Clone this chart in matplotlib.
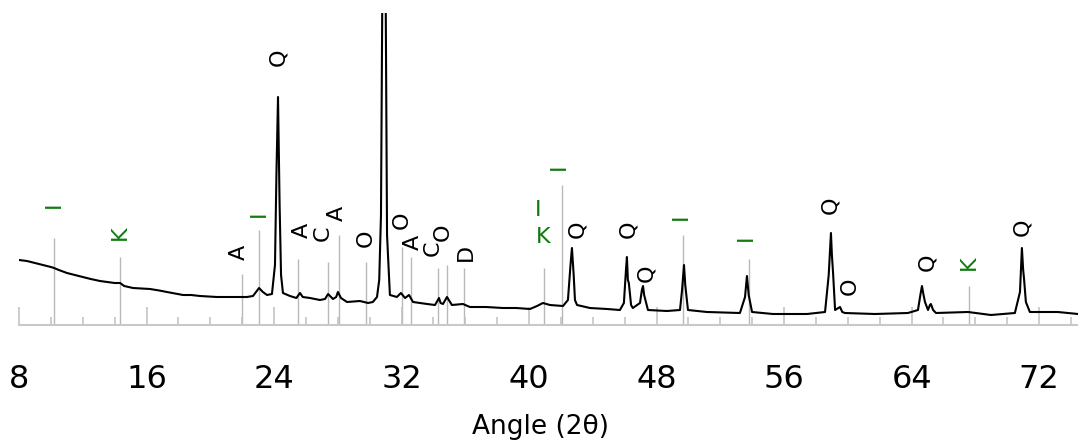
import matplotlib
matplotlib.use("Agg")
from matplotlib import pyplot as plt
from matplotlib.ticker import MultipleLocator

plt.rcParams['font.family'] = ['DejaVu Sans']

# Diffraction pattern (angle 2theta, intensity in counts)
two_theta = [
    8.00, 8.50, 9.00, 9.50, 10.00, 10.20, 10.50, 11.01, 12.02, 12.50, 13.08,
    14.00, 14.34, 14.60, 15.15, 15.70, 16.22, 16.80, 17.28, 17.80, 18.29, 18.80,
    19.36, 20.42, 21.43, 22.30, 22.68, 23.06, 23.30,
    23.56, 23.87, 24.06, 24.15, 24.25, 24.35, 24.44, 24.56, 25.00, 25.40, 25.63,
    25.80, 26.26, 26.88, 27.20, 27.39, 27.70, 27.90, 28.01, 28.20, 28.58, 29.39,
    29.90, 30.20, 30.46, 30.60, 30.71, 30.82, 30.90, 30.98, 31.09, 31.27, 31.71,
    31.96, 32.22, 32.47, 32.72, 33.60, 34.10, 34.35, 34.45, 34.60, 34.85, 35.16,
    35.85, 36.29, 37.30, 38.36, 39.20, 40.06, 40.50, 40.87, 41.31, 42.13, 42.44,
    42.60, 42.69, 42.80, 42.88, 43.01, 43.82, 44.89, 45.70, 45.95, 46.08, 46.14,
    46.20, 46.26, 46.40, 46.51, 46.96, 47.08, 47.15, 47.22, 47.30, 47.46, 48.65,
    49.47, 49.60, 49.72, 49.80, 49.97, 51.16, 53.23, 53.55, 53.67, 53.78, 53.99,
    55.30, 57.44, 58.57, 58.80, 58.94, 59.00, 59.07, 59.20, 59.30, 59.51, 59.65,
    59.82, 61.70, 63.77, 64.40, 64.55, 64.65, 64.75, 64.84, 65.03, 65.15, 65.21,
    65.35, 65.53, 67.54, 68.98, 70.48, 70.80, 70.92, 71.00, 71.05, 71.17, 71.42,
    72.50, 73.18, 74.44,
]
counts = [
    650, 640, 620, 600, 580, 570, 550, 520, 480, 460, 440,
    420, 420, 390, 370, 365, 360, 345, 330, 315, 300, 300,
    290, 280, 280, 280, 290, 370, 330,
    300, 310, 600, 1500, 2280, 1200, 500, 320, 290, 270, 320,
    280, 270, 250, 260, 310, 260, 280, 330, 270, 230, 240,
    220, 230, 280, 450, 1100, 4000, 33000, 4000, 900, 300, 280,
    320, 270, 300, 230, 210, 200, 270, 220, 210, 280, 200,
    210, 180, 180, 170, 170, 160, 190, 220, 200, 190, 250,
    600, 770, 500, 250, 200, 170, 160, 150, 220, 550, 680,
    450, 420, 200, 170, 220, 350, 390, 300, 250, 150, 140,
    150, 350, 600, 400, 150, 130, 120, 280, 490, 300, 130,
    110, 110, 130, 500, 920, 700, 530, 150, 160, 180, 130,
    120, 110, 120, 150, 300, 390, 300, 230, 150, 200, 210,
    150, 120, 130, 100, 120, 330, 770, 550, 470, 230, 130,
    130, 130, 110,
]

# Reference (stick) lines of the identified phases
ref_pos = [10.20, 14.34, 21.97, 23.06, 25.50, 27.39, 28.08, 29.77, 32.03,
           32.59, 34.29, 34.85, 35.92, 40.94, 42.07, 49.66, 53.80, 67.60]
ref_top = [870, 680, 510, 950, 660, 630, 900, 630, 780,
           680, 570, 600, 570, 570, 1400, 900, 660, 390]

# Phase letters
label_text = ["I", "K", "A", "I", "Q", "A", "C", "A", "O", "O", "A", "C", "O",
              "D", "I", "K", "I", "Q", "Q", "Q", "I", "I", "Q", "O", "Q", "K", "Q"]
label_x = [10.20, 14.34, 21.80, 23.06, 24.25, 25.75, 27.07, 27.95, 29.77, 32.03,
           32.72, 33.97, 34.60, 36.04, 40.58, 40.87, 41.88, 43.01, 46.21, 47.34,
           49.53, 53.61, 58.88, 60.13, 64.96, 67.60, 70.92]
label_y = [1200, 920, 730, 1110, 2680, 950, 920, 1120, 870, 1050,
           830, 770, 930, 730, 1150, 880, 1580, 960, 960, 520,
           1080, 870, 1200, 390, 630, 620, 980]
label_green = [True, True, False, True, False, False, False, False, False, False,
               False, False, False, False, True, True, True, False, False, False,
               True, True, False, False, False, True, False]
label_upright = [False] * 14 + [True, True] + [False] * 11

grey = "#b8b8b8"
green = "#137a13"

fig = plt.figure(figsize=(10.78, 4.45), dpi=100)
ax = fig.add_axes([19 / 1078, 120 / 445, 1 - 19 / 1078, 312 / 445])

ax.vlines(ref_pos, 0, ref_top, color=grey, lw=1.0, zorder=1)
ax.plot(two_theta, counts, color="black", lw=1.5, zorder=2)

for t, x, y, g, up in zip(label_text, label_x, label_y, label_green, label_upright):
    ax.text(x, y, t, ha="center", va="center", fontsize=16,
            rotation=0 if up else 90, color=green if g else "black")

ax.set_xlim(8, 74.44)
ax.set_ylim(0, 3120)

for s in ["top", "left", "right"]:
    ax.spines[s].set_visible(False)
ax.spines["bottom"].set_color("#c8c8c8")
ax.spines["bottom"].set_linewidth(1.5)
ax.set_yticks([])

ax.xaxis.set_major_locator(MultipleLocator(8))
ax.xaxis.set_minor_locator(MultipleLocator(2))
ax.tick_params(axis="x", which="major", direction="in", length=13, width=1.1,
               color="#c0c0c0", labelsize=23, pad=28)
ax.tick_params(axis="x", which="minor", direction="in", length=6, width=1.1,
               color="#c0c0c0")

fig.text(540 / 1078, 1 - 427 / 445, "Angle (2\u03b8)", ha="center", va="center",
         fontsize=19)

fig.savefig("out.png", dpi=100)
